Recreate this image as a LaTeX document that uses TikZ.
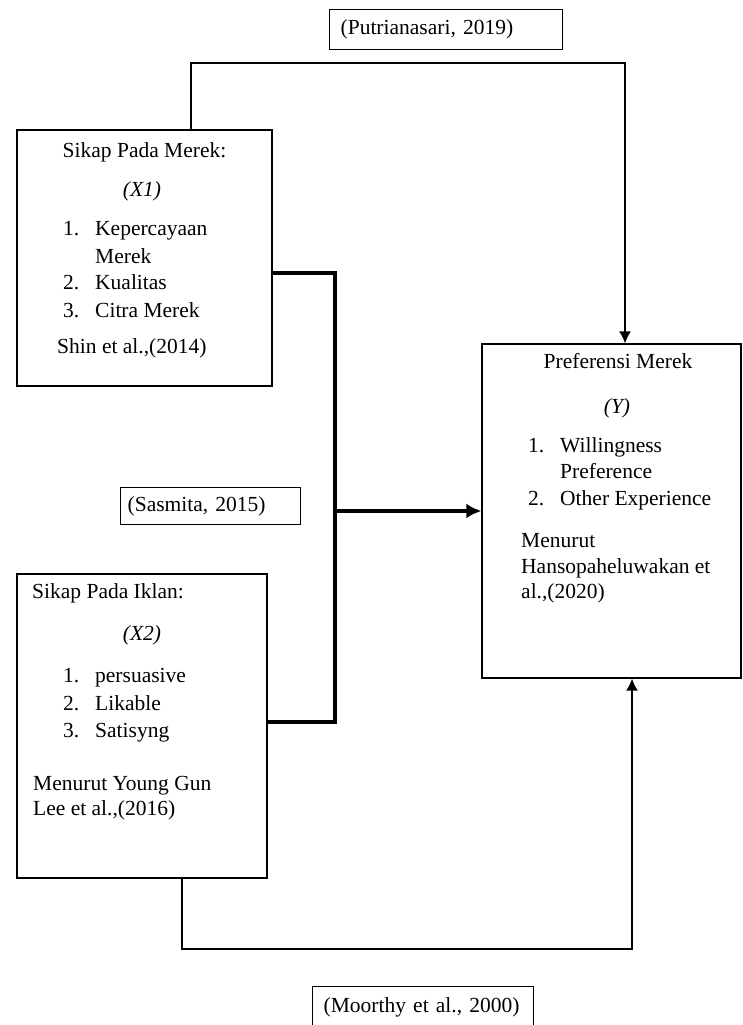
\documentclass[tikz,border=0pt]{standalone}
\usepackage{fontspec}
\setmainfont{Liberation Serif}
\usetikzlibrary{arrows.meta}

\begin{document}
\begin{tikzpicture}[x=1pt, y=-1pt,
  font=\fontsize{21.5}{27}\selectfont,
  varbox/.style={draw, line width=1.3pt, inner sep=0pt},
  refbox/.style={draw, line width=1.3pt, anchor=north west, align=left, inner ysep=0pt},
  txt/.style={anchor=base west, inner sep=0pt},
  mid/.style={anchor=base, inner sep=0pt},
  thinlink/.style={line width=1.5pt},
  thicklink/.style={line width=3.4pt},
  tip/.style={-{Latex[length=12pt,width=12pt]}},
  bigtip/.style={-{Latex[length=15pt,width=15pt]}}]
\useasboundingbox (0,0) rectangle (742,1025);

\node[varbox, minimum width=255pt, minimum height=256pt] (x1) at (144.5,258) {};
\node[varbox, minimum width=250pt, minimum height=304pt] (x2) at (142,726) {};
\node[varbox, minimum width=259pt, minimum height=334pt] (y) at (611.5,511) {};

\node[refbox, minimum width=233pt, minimum height=40pt, text width=211pt, inner xsep=11pt] (putri) at (329,9) {(Putrianasari, 2019)};
\node[refbox, minimum width=180pt, minimum height=37pt, text width=166pt, inner xsep=7pt] (sasmita) at (120,487) {(Sasmita, 2015)};
\node[refbox, minimum width=221pt, minimum height=42pt, text width=199pt, inner xsep=11pt] (moorthy) at (312,986) {(Moorthy et al., 2000)};

% Sikap Pada Merek
\node[mid] (x1title) at (144.5,157) {Sikap Pada Merek:};
\node[mid] (x1var) at (142,196) {\textit{(X1)}};
\node[txt] (x1n1) at (63,235) {1.};
\node[txt] (x1i1) at (95,235) {Kepercayaan};
\node[txt] (x1i1b) at (95,263) {Merek};
\node[txt] (x1n2) at (63,289) {2.};
\node[txt] (x1i2) at (95,289) {Kualitas};
\node[txt] (x1n3) at (63,317) {3.};
\node[txt] (x1i3) at (95,317) {Citra Merek};
\node[txt] (x1src) at (57,353) {Shin et al.,(2014)};

% Sikap Pada Iklan
\node[txt] (x2title) at (32,598) {Sikap Pada Iklan:};
\node[mid] (x2var) at (142,640) {\textit{(X2)}};
\node[txt] (x2n1) at (63,682) {1.};
\node[txt] (x2i1) at (95,682) {persuasive};
\node[txt] (x2n2) at (63,710) {2.};
\node[txt] (x2i2) at (95,710) {Likable};
\node[txt] (x2n3) at (63,737) {3.};
\node[txt] (x2i3) at (95,737) {Satisyng};
\node[txt] (x2src) at (33,790) {Menurut Young Gun};
\node[txt] (x2srcb) at (33,815) {Lee et al.,(2016)};

% Preferensi Merek
\node[mid] (ytitle) at (618,368) {Preferensi Merek};
\node[mid] (yvar) at (617,413) {\textit{(Y)}};
\node[txt] (yn1) at (528,452) {1.};
\node[txt] (yi1) at (560,452) {Willingness};
\node[txt] (yi1b) at (560,478) {Preference};
\node[txt] (yn2) at (528,505) {2.};
\node[txt] (yi2) at (560,505) {Other Experience};
\node[txt] (ysrc) at (521,547) {Menurut};
\node[txt] (ysrcb) at (521,573) {Hansopaheluwakan et};
\node[txt] (ysrcc) at (521,598) {al.,(2020)};

\coordinate (t1) at (191,63);
\coordinate (t2) at (625,63);
\draw[thinlink, tip] (x1.north -| t1) -- (t1) -- (t2) -- (t2 |- y.north);

\coordinate (j1) at (335,273);
\coordinate (j2) at (335,722);
\draw[thicklink] (x1.east |- j1) -- (j1) -- (j2) -- (x2.east |- j2);
\draw[thicklink, bigtip] (j1 |- y.west) -- (y.west);

\coordinate (b1) at (182,949);
\coordinate (b2) at (632,949);
\draw[thinlink, tip] (x2.south -| b1) -- (b1) -- (b2) -- (b2 |- y.south);
\end{tikzpicture}
\end{document}
